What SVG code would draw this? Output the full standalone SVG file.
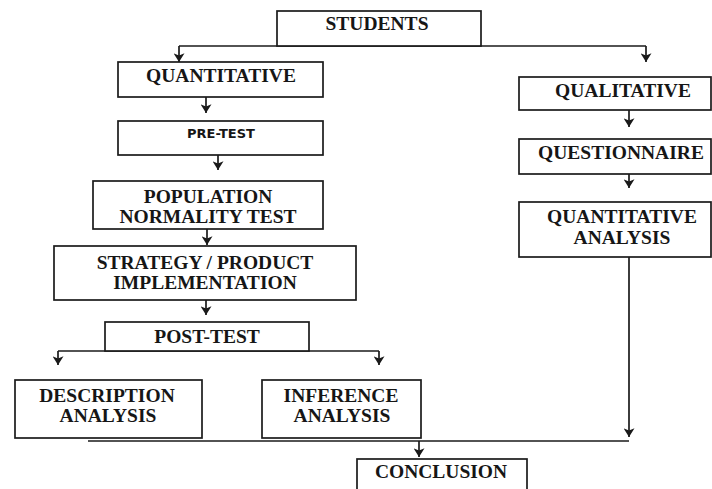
<svg xmlns="http://www.w3.org/2000/svg" width="712" height="489" viewBox="0 0 712 489">
<style>
.box{fill:#fff;stroke:#1a1a1a;stroke-width:1.7}
.t{font-family:"Liberation Serif","Times New Roman",serif;font-weight:bold;font-size:19.5px;fill:#161616;text-anchor:middle}
.s{font-family:"DejaVu Sans",Verdana,sans-serif;font-weight:bold;font-size:13px;fill:#161616;text-anchor:middle}
.c{fill:none;stroke:#1a1a1a;stroke-width:1.7}
.a{marker-end:url(#arr)}
</style>
<defs>
<marker id="arr" markerUnits="userSpaceOnUse" markerWidth="10" markerHeight="11" refX="8" refY="5" orient="auto" viewBox="0 0 9 10">
<path d="M0,0 L8,5 L0,10 L2.2,5 z" fill="#1a1a1a"/>
</marker>
</defs>
<rect width="712" height="489" fill="#fff"/>
<g id="connectors">
<path class="c" d="M179,46 H646"/>
<path class="c a" d="M179,46 V62"/>
<path class="c a" d="M646,46 V62"/>
<path class="c a" d="M206,97 V113"/>
<path class="c a" d="M218,155 V170"/>
<path class="c a" d="M207,229 V245"/>
<path class="c a" d="M206,300 V315"/>
<path class="c" d="M58,351 H379"/>
<path class="c a" d="M58,351 V365"/>
<path class="c a" d="M379,351 V365"/>
<path class="c" d="M88,441 H629"/>
<path class="c a" d="M419,441 V457"/>
<path class="c a" d="M629,110 V127"/>
<path class="c a" d="M629,174 V188"/>
<path class="c a" d="M629,257 V437"/>
</g>
<g id="students"><rect class="box" x="277" y="11" width="204" height="35"/><text class="t" x="377" y="30">STUDENTS</text></g>
<g id="quantitative"><rect class="box" x="118" y="62" width="205" height="35"/><text class="t" x="221" y="82">QUANTITATIVE</text></g>
<g id="pretest"><rect class="box" x="118" y="121" width="205" height="34"/><text class="s" x="221" y="138">PRE-TEST</text></g>
<g id="population"><rect class="box" x="93" y="181" width="230" height="48"/><text class="t" x="208" y="203">POPULATION</text><text class="t" x="208" y="223">NORMALITY TEST</text></g>
<g id="strategy"><rect class="box" x="54" y="246" width="302" height="54"/><text class="t" x="205" y="269">STRATEGY / PRODUCT</text><text class="t" x="205" y="289">IMPLEMENTATION</text></g>
<g id="posttest"><rect class="box" x="105" y="322" width="204" height="29"/><text class="t" x="207" y="343">POST-TEST</text></g>
<g id="description"><rect class="box" x="15" y="380" width="187" height="58"/><text class="t" x="107" y="402">DESCRIPTION</text><text class="t" x="108" y="422">ANALYSIS</text></g>
<g id="inference"><rect class="box" x="262" y="380" width="159" height="58"/><text class="t" x="341" y="402">INFERENCE</text><text class="t" x="342" y="422">ANALYSIS</text></g>
<g id="conclusion"><rect class="box" x="357" y="459" width="170" height="40"/><text class="t" x="441" y="478">CONCLUSION</text></g>
<g id="qualitative"><rect class="box" x="519" y="77" width="192" height="33"/><text class="t" x="623" y="97">QUALITATIVE</text></g>
<g id="questionnaire"><rect class="box" x="519" y="139" width="192" height="35"/><text class="t" x="621" y="159">QUESTIONNAIRE</text></g>
<g id="quantanalysis"><rect class="box" x="519" y="202" width="192" height="55"/><text class="t" x="622" y="223">QUANTITATIVE</text><text class="t" x="622" y="244">ANALYSIS</text></g>
</svg>
